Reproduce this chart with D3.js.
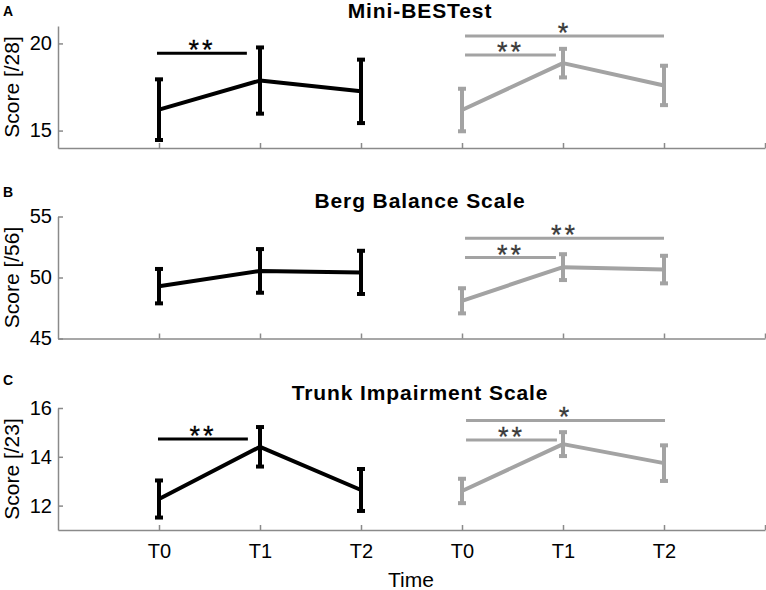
<!DOCTYPE html>
<html>
<head>
<meta charset="utf-8">
<script src="https://cdn.jsdelivr.net/npm/d3@7"></script>
<style>
  body { margin: 0; background: #fff; }
  text { font-family: "Liberation Sans", Arial, sans-serif; }
</style>
</head>
<body>
<svg id="canvas"></svg>
<script>
const width = 766;
const height = 590;

// time points, tick labels
const timePoints = ["T0", "T1", "T2"];
const tickLabels = ["T0", "T1", "T2", "T0", "T1", "T2", ""];

// Mini-BESTest
const miniMeansBlack = [16.2, 17.87, 17.25];
const miniErrBlack = [1.74, 1.9, 1.82];
const miniMeansGray = [16.18, 18.87, 17.59];
const miniErrGray = [1.22, 0.82, 1.13];
const miniSig = [
    { x0: 0.98, x1: 1.87, y: 19.43, label: "**", grp: "black" },
    { x0: 4.03, x1: 4.93, y: 19.33, label: "**", grp: "gray" },
    { x0: 4.03, x1: 6.0, y: 20.43, label: "*", grp: "gray" }
];

// Berg Balance Scale
const bergMeansBlack = [49.29, 50.54, 50.42];
const bergErrBlack = [1.41, 1.79, 1.77];
const bergMeansGray = [48.09, 50.85, 50.65];
const bergErrGray = [1.03, 1.06, 1.13];
const bergSig = [
    { x0: 4.03, x1: 4.93, y: 51.63, label: "**", grp: "gray" },
    { x0: 4.03, x1: 6.0, y: 53.22, label: "**", grp: "gray" }
];

// Trunk Impairment Scale
const tisMeansBlack = [12.27, 14.41, 12.64];
const tisErrBlack = [0.76, 0.81, 0.86];
const tisMeansGray = [12.6, 14.52, 13.74];
const tisErrGray = [0.5, 0.49, 0.73];
const tisSig = [
    { x0: 0.99, x1: 1.88, y: 14.73, label: "**", grp: "black" },
    { x0: 4.04, x1: 4.94, y: 14.69, label: "**", grp: "gray" },
    { x0: 4.04, x1: 6.01, y: 15.49, label: "*", grp: "gray" }
];

const panels = [
    { id: "A", title: "Mini-BESTest", ylabel: "Score [/28]", domain: [14, 21], ticks: [15, 20],
      black: miniMeansBlack, blackErr: miniErrBlack, gray: miniMeansGray, grayErr: miniErrGray, sig: miniSig },
    { id: "B", title: "Berg Balance Scale", ylabel: "Score [/56]", domain: [45, 55], ticks: [45, 50, 55],
      black: bergMeansBlack, blackErr: bergErrBlack, gray: bergMeansGray, grayErr: bergErrGray, sig: bergSig },
    { id: "C", title: "Trunk Impairment Scale", ylabel: "Score [/23]", domain: [11, 16], ticks: [12, 14, 16],
      black: tisMeansBlack, blackErr: tisErrBlack, gray: tisMeansGray, grayErr: tisErrGray, sig: tisSig }
];

const panelTops = [26, 216.5, 408];
const letterY = [16, 197, 385];
const panelH = 122;
const left = 58, right = 765;
const axisColor = "#8a8a8a";
const colors = { black: "#000000", gray: "#a3a3a3" };
const starColors = { black: "#000000", gray: "#3a3a3a" };

let canvas = d3.select("#canvas").attr("width", width).attr("height", height);

const x = d3.scaleLinear().domain([0, 7]).range([left, right]);

panels.forEach((p, i) => {
    const top = panelTops[i];
    const y = d3.scaleLinear().domain(p.domain).range([top + panelH, top]);
    const g = canvas.append("g");

    // axes
    const xAxis = d3.axisBottom(x)
        .tickValues([1, 2, 3, 4, 5, 6, 7])
        .tickFormat((d, j) => i === 2 ? tickLabels[j] : "")
        .tickSizeInner(-5).tickSizeOuter(0).tickPadding(14);
    const gx = g.append("g").attr("transform", `translate(0,${top + panelH})`).call(xAxis);
    gx.select(".domain").attr("stroke", axisColor).attr("stroke-width", 1.5);
    gx.selectAll(".tick line").attr("stroke", axisColor).attr("stroke-width", 1.5);
    gx.selectAll(".tick text").attr("fill", "#000").style("font-size", "20px")
        .style("font-family", "'Liberation Sans', Arial, sans-serif");

    const yAxis = d3.axisLeft(y).tickValues(p.ticks).tickFormat(d3.format("d"))
        .tickSizeInner(-5).tickSizeOuter(0).tickPadding(6);
    const gy = g.append("g").attr("transform", `translate(${left},0)`).call(yAxis);
    gy.select(".domain").attr("stroke", axisColor).attr("stroke-width", 1.5);
    gy.selectAll(".tick line").attr("stroke", axisColor).attr("stroke-width", 1.5);
    gy.selectAll(".tick text").attr("fill", "#000").style("font-size", "20px")
        .style("font-family", "'Liberation Sans', Arial, sans-serif");

    // y label
    g.append("text")
        .attr("transform", `translate(19,${top + panelH / 2}) rotate(-90)`)
        .attr("text-anchor", "middle")
        .style("font-size", "21px")
        .text(p.ylabel);

    // title + panel letter
    g.append("text")
        .attr("x", 420).attr("y", top - 8.5)
        .attr("text-anchor", "middle")
        .style("font-size", "21px").style("font-weight", "bold").style("letter-spacing", "0.9px")
        .text(p.title);
    g.append("text")
        .attr("x", 3).attr("y", letterY[i])
        .style("font-size", "14px").style("font-weight", "bold")
        .text(p.id);

    // the two groups
    [["black", p.black, p.blackErr, 1], ["gray", p.gray, p.grayErr, 4]].forEach(([grp, means, errs, offset]) => {
        const pts = means.map((m, j) => ({ t: timePoints[j], x: offset + j, m: m, e: errs[j] }));
        const line = d3.line().x(d => x(d.x)).y(d => y(d.m));
        g.append("path").datum(pts)
            .attr("d", line)
            .attr("fill", "none")
            .attr("stroke", colors[grp])
            .attr("stroke-width", 4)
            .attr("stroke-linejoin", "round");

        const eb = g.selectAll(null).data(pts).enter().append("g");
        eb.append("line")
            .attr("x1", d => x(d.x)).attr("x2", d => x(d.x))
            .attr("y1", d => y(d.m - d.e)).attr("y2", d => y(d.m + d.e))
            .attr("stroke", colors[grp]).attr("stroke-width", 4);
        eb.selectAll(null).data(d => [d.m - d.e, d.m + d.e].map(v => ({ x: d.x, v: v })))
            .enter().append("line")
            .attr("x1", d => x(d.x) - 4).attr("x2", d => x(d.x) + 4)
            .attr("y1", d => y(d.v)).attr("y2", d => y(d.v))
            .attr("stroke", colors[grp]).attr("stroke-width", 4);
    });

    // significance bars
    const sg = g.selectAll(null).data(p.sig).enter().append("g");
    sg.append("line")
        .attr("x1", d => x(d.x0)).attr("x2", d => x(d.x1))
        .attr("y1", d => y(d.y)).attr("y2", d => y(d.y))
        .attr("stroke", d => colors[d.grp]).attr("stroke-width", 3);
    sg.append("text")
        .attr("x", d => (x(d.x0) + x(d.x1)) / 2)
        .attr("y", d => y(d.y) + 6)
        .attr("text-anchor", "middle")
        .attr("fill", d => starColors[d.grp])
        .attr("stroke", d => starColors[d.grp])
        .attr("stroke-width", 0.3)
        .style("font-size", "27px")
        .style("letter-spacing", "3px")
        .text(d => d.label);
});

// x label
canvas.append("text")
    .attr("x", 411).attr("y", 587)
    .attr("text-anchor", "middle")
    .style("font-size", "21px")
    .text("Time");
</script>
</body>
</html>
